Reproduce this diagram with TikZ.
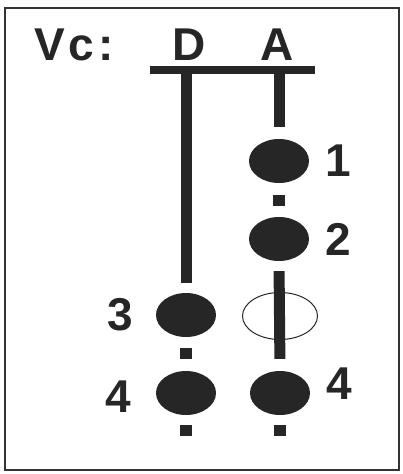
\documentclass[tikz,border=0pt]{standalone}
\usepackage{fontspec}
\setmainfont{Liberation Sans}
\usetikzlibrary{shapes.geometric,positioning}

\begin{document}
\begin{tikzpicture}[x=1pt,y=-1pt]
        \tikzstyle{bead}=[ellipse, inner sep=0pt, minimum width=60pt, minimum height=44pt, fill=black!85]
        \tikzstyle{gap}=[ellipse, inner sep=0pt, minimum width=75pt, minimum height=47pt, draw=black!85, line width=1pt]
        \tikzstyle{dot}=[rectangle, inner sep=0pt, minimum width=12pt, minimum height=11pt, fill=black!85]
        \tikzstyle{stem}=[line width=11pt, draw=black!85]
        \tikzstyle{lab}=[inner sep=0pt, font=\fontsize{46}{46}\selectfont\bfseries, text=black!85]
        \useasboundingbox (0,0) rectangle (403,474);
        \draw[line width=2.5pt, draw=black!80] (5,8) rectangle (399,470);
        % header
        \node[lab] (vc) at (74,45) {\addfontfeature{LetterSpace=8}Vc:};
        \node[lab] (donor) at (189,45) {D};
        \node[lab] (acc) at (277,45) {A};
        \coordinate (barl) at (150,70);
        \coordinate (barr) at (315,70);
        % beads
        \node[bead] (a1) at (279,161) {};
        \node[bead] (a2) at (279,239) {};
        \node[gap] (a3) at (280,316) {};
        \node[bead] (a4) at (280,393) {};
        \node[bead] (d3) at (186,315) {};
        \node[bead] (d4) at (186,393) {};
        \node[dot] (a12) [below=12pt of a1] {};
        \node[dot] (d34) [below=11pt of d3] {};
        \node[dot] (d4e) [below=10pt of d4] {};
        \node[dot] (a4e) [below=10pt of a4] {};
        % labels
        \node[lab] (l1) [right=16pt of a1] {1};
        \node[lab] (l2) [right=16pt of a2] {2};
        \node[lab] (l3) [left=23pt of d3] {3};
        \node[lab,yshift=-4pt] (l4d) [left=25pt of d4] {4};
        \node[lab,yshift=9pt] (l4a) [right=16pt of a4] {4};
        % strands
        \draw[line width=8pt, draw=black!85] (barl) -- (barr);
        \path[stem] (barl -| d3) edge [shorten >=10pt] (d3.north)
        (barl -| a1) edge [shorten >=12pt] (a1.north)
        (a2.south) edge [shorten <=10pt, shorten >=12pt] (a4.north);
\end{tikzpicture}
\end{document}
